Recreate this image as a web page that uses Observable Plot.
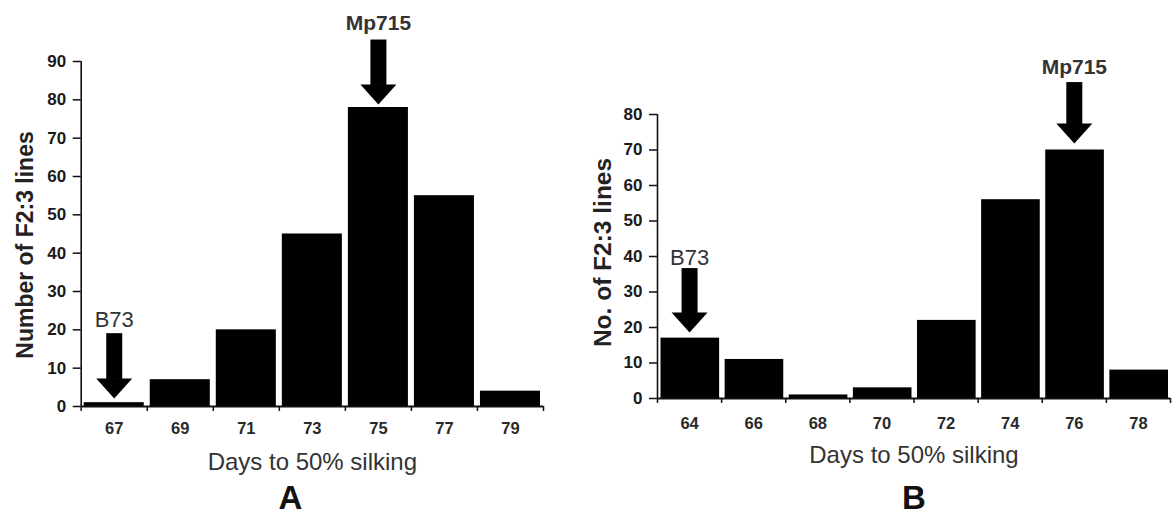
<!DOCTYPE html>
<html>
<head>
<meta charset="utf-8">
<script src="https://cdn.jsdelivr.net/npm/d3@7"></script>
<script src="https://cdn.jsdelivr.net/npm/@observablehq/plot@0.6"></script>
<style>
  html, body { margin: 0; padding: 0; background: #fff; }
  #wrap { position: relative; width: 1172px; height: 517px; overflow: hidden; }
  #wrap svg { position: absolute; top: 0; }
</style>
</head>
<body>
<div id="wrap"></div>
<script>
// ---- data ----
const daysA = [67, 69, 71, 73, 75, 77, 79];
const countsA = [1, 7, 20, 45, 78, 55, 4];
const yTicksA = [0, 10, 20, 30, 40, 50, 60, 70, 80, 90];

const daysB = [64, 66, 68, 70, 72, 74, 76, 78];
const countsB = [17, 11, 1, 3, 22, 56, 70, 8];
const yTicksB = [0, 10, 20, 30, 40, 50, 60, 70, 80];

const xTitle = "Days to 50% silking";
const yTitleA = "Number of F2:3 lines";
const yTitleB = "No. of F2:3 lines";
const panelA = "A";
const panelB = "B";

// parent markers: day, label height, arrow top, arrow tip (in y units)
const parentsA = [
  {label: "B73", day: 67, labelY: 22.5, top: 19, tip: 2.1},
  {label: "Mp715", day: 75, labelY: 100, top: 95.6, tip: 78.8}
];
const parentsB = [
  {label: "B73", day: 64, labelY: 39.7, top: 36.6, tip: 18.6},
  {label: "Mp715", day: 76, labelY: 93.2, top: 89, tip: 71.8}
];

// ---- drawing ----
const arrowHead = {
  draw(ctx) {
    ctx.moveTo(-18, -20);
    ctx.lineTo(18, -20);
    ctx.lineTo(0, 0);
    ctx.closePath();
  }
};

function panel({days, counts, yTicks, yMax, yTitle, letter, parents, width, m, inset, xPad, xTitleDy, letterDx, letterDy, yTitleDx, yTitleDy, yTitleSize}) {
  const rows = days.map((d, i) => ({day: d, count: counts[i]}));
  const xMin = days[0] - 1, xMax = days[days.length - 1] + 1;
  const bounds = days.map(d => d - 1).concat([xMax]);
  return Plot.plot({
    width, height: 517,
    marginLeft: m[0], marginRight: m[1], marginTop: m[2], marginBottom: m[3],
    style: {fontFamily: "'Liberation Sans', Arial, sans-serif", color: "#111", background: "white"},
    x: {domain: [xMin, xMax]},
    y: {domain: [0, yMax]},
    marks: [
      Plot.rectY(rows, {x1: d => d.day - 1, x2: d => d.day + 1, y1: 0, y2: "count", fill: "black", insetLeft: inset[0], insetRight: inset[1]}),
      Plot.ruleY([0], {stroke: "#111", strokeWidth: 2}),
      Plot.ruleX([xMin], {stroke: "#111", strokeWidth: 1.6}),
      Plot.axisY({ticks: yTicks, tickSize: 8, tickPadding: 7, fontSize: 17, fontWeight: "bold", strokeWidth: 1.5, label: null, fill: "#1a1a1a"}),
      Plot.axisX({ticks: bounds, tickSize: 5, tickFormat: () => "", strokeWidth: 1.5, label: null}),
      Plot.axisX({ticks: days, tickSize: 0, tickPadding: xPad, fontSize: 16.5, fontWeight: "bold", label: null, fill: "#2a2a2a"}),
      Plot.text([xTitle], {frameAnchor: "bottom", dy: xTitleDy, fontSize: 24, fill: "#333"}),
      Plot.text([letter], {frameAnchor: "bottom", dx: letterDx, dy: letterDy, fontSize: 33, fontWeight: "bold", fill: "#111"}),
      Plot.text([yTitle], {frameAnchor: "left", textAnchor: "middle", dx: yTitleDx, dy: yTitleDy, rotate: -90, fontSize: yTitleSize, fontWeight: "bold", fill: "#222"}),
      Plot.ruleX(parents, {x: "day", y1: "top", y2: "tip", stroke: "black", strokeWidth: 16, insetBottom: 19}),
      Plot.dot(parents, {x: "day", y: "tip", symbol: arrowHead, fill: "black", stroke: null, r: 5}),
      Plot.text(parents.filter(p => p.label === "B73"), {x: "day", y: "labelY", text: "label", fontSize: 22, fill: "#333"}),
      Plot.text(parents.filter(p => p.label !== "B73"), {x: "day", y: "labelY", text: "label", fontSize: 21, fontWeight: "bold", fill: "#333"})
    ]
  });
}

const wrap = document.getElementById("wrap");

const svgA = panel({
  days: daysA, counts: countsA, yTicks: yTicksA, yMax: 90, yTitle: yTitleA, letter: panelA, parents: parentsA,
  width: 580, m: [80.7, 37, 61, 111], inset: [3, 3], xPad: 15.5,
  xTitleDy: 63, letterDx: -22, letterDy: 102, yTitleDx: -56, yTitleDy: 11, yTitleSize: 23
});
svgA.style.left = "0px";
wrap.appendChild(svgA);

const svgB = panel({
  days: daysB, counts: countsB, yTicks: yTicksB, yMax: 80, yTitle: yTitleB, letter: panelB, parents: parentsB,
  width: 592, m: [77, 2, 114, 119], inset: [3.5, 2], xPad: 18.5,
  xTitleDy: 64, letterDx: 0, letterDy: 110, yTitleDx: -54, yTitleDy: -4, yTitleSize: 24.5
});
svgB.style.left = "580px";
wrap.appendChild(svgB);
</script>
</body>
</html>
